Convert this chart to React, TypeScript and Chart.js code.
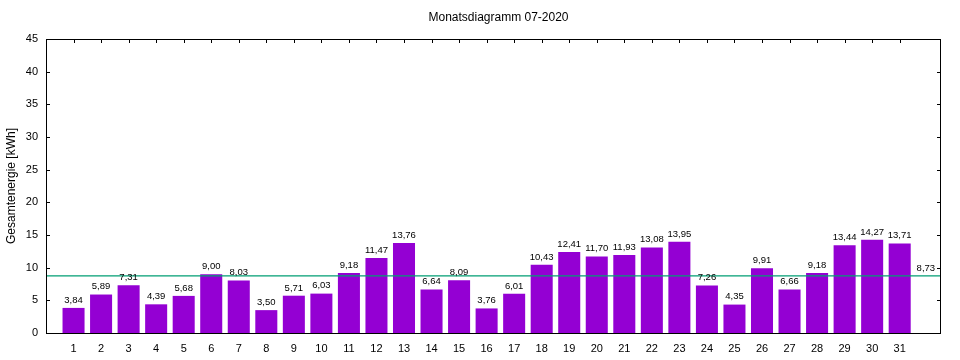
import React, { useEffect, useRef } from "react";
import { Chart, registerables } from "chart.js";

Chart.register(...registerables);

const days = [1,2,3,4,5,6,7,8,9,10,11,12,13,14,15,16,17,18,19,20,21,22,23,24,25,26,27,28,29,30,31];
const energy = [3.84,5.89,7.31,4.39,5.68,9.00,8.03,3.50,5.71,6.03,9.18,11.47,13.76,6.64,8.09,3.76,6.01,10.43,12.41,11.70,11.93,13.08,13.95,7.26,4.35,9.91,6.66,9.18,13.44,14.27,13.71];
const average = 8.73;
const yTicks = [0,5,10,15,20,25,30,35,40,45];
const title = "Monatsdiagramm 07-2020";
const yTitle = "Gesamtenergie [kWh]";

const fmt = (v: number) => v.toFixed(2).replace(".", ",");
const FONT = "'Liberation Sans', Arial, sans-serif";

export default function App() {
  const ref = useRef<HTMLCanvasElement>(null);
  useEffect(() => {
    document.body.style.margin = "0";
    const ctx = ref.current!;
    const deco = {
      id: "deco",
      afterDraw(chart: any) {
        const c = chart.ctx;
        const { left, right, top, bottom } = chart.chartArea;
        const x = chart.scales.x, y = chart.scales.y;
        c.save();
        // value labels
        c.fillStyle = "#000";
        c.font = `9.5px ${FONT}`;
        c.textAlign = "center";
        c.textBaseline = "bottom";
        energy.forEach((v, i) => {
          c.fillText(fmt(v), x.getPixelForValue(days[i]), y.getPixelForValue(v) - 3);
        });
        c.fillText(fmt(average), x.getPixelForValue(31.95), y.getPixelForValue(average) - 3);
        // border
        c.strokeStyle = "#000";
        c.lineWidth = 1;
        c.strokeRect(Math.round(left) + 0.5, Math.round(top) + 0.5, Math.round(right - left) - 1, Math.round(bottom - top));
        // ticks inward
        c.beginPath();
        yTicks.forEach((t) => {
          const py = Math.round(y.getPixelForValue(t)) + 0.5;
          c.moveTo(left, py); c.lineTo(left + 4, py);
          c.moveTo(right, py); c.lineTo(right - 4, py);
        });
        days.forEach((d) => {
          const px = Math.round(x.getPixelForValue(d)) + 0.5;
          c.moveTo(px, top); c.lineTo(px, top + 4);
        });
        c.stroke();
        // title
        c.font = `12px ${FONT}`;
        c.textBaseline = "middle";
        c.textAlign = "center";
        c.fillText(title, (left + right) / 2 + 5, 18);
        // y title
        c.translate(12, (top + bottom) / 2);
        c.rotate(-Math.PI / 2);
        c.fillText(yTitle, 0, 0);
        c.restore();
      },
    };
    const chart = new Chart(ctx, {
      type: "bar",
      data: {
        datasets: [
          {
            type: "bar",
            data: days.map((d, i) => ({ x: d, y: energy[i] })),
            backgroundColor: "#9400d3",
            borderWidth: 0,
            barPercentage: 0.8,
            categoryPercentage: 1,
            order: 2,
          } as any,
          {
            type: "line",
            data: [{ x: 0, y: average }, { x: 32.5, y: average }],
            borderColor: "#009e73",
            borderWidth: 1.3,
            pointRadius: 0,
            order: 1,
          } as any,
        ],
      },
      plugins: [deco],
      options: {
        animation: false,
        responsive: false,
        layout: { padding: { top: 39, right: 19, left: 0, bottom: 0 } },
        plugins: { legend: { display: false }, tooltip: { enabled: false }, title: { display: false } },
        scales: {
          x: {
            type: "linear",
            min: 0,
            max: 32.5,
            offset: false,
            grid: { display: false, drawTicks: false },
            border: { display: false },
            afterBuildTicks: (s: any) => { s.ticks = days.map((d) => ({ value: d })); },
            afterFit: (s: any) => { s.height = 27; },
            ticks: { color: "#000", font: { family: FONT, size: 11 }, padding: 9, maxRotation: 0, autoSkip: false, callback: (v: any) => String(v) },
          },
          y: {
            min: 0,
            max: 45,
            grid: { display: false, drawTicks: false },
            border: { display: false },
            afterBuildTicks: (s: any) => { s.ticks = yTicks.map((t) => ({ value: t })); },
            afterFit: (s: any) => { s.width = 46; },
            ticks: { color: "#000", font: { family: FONT, size: 11 }, padding: 8 },
          },
        },
      },
    } as any);
    return () => chart.destroy();
  }, []);
  return <canvas ref={ref} width={960} height={360} style={{ display: "block" }} />;
}
